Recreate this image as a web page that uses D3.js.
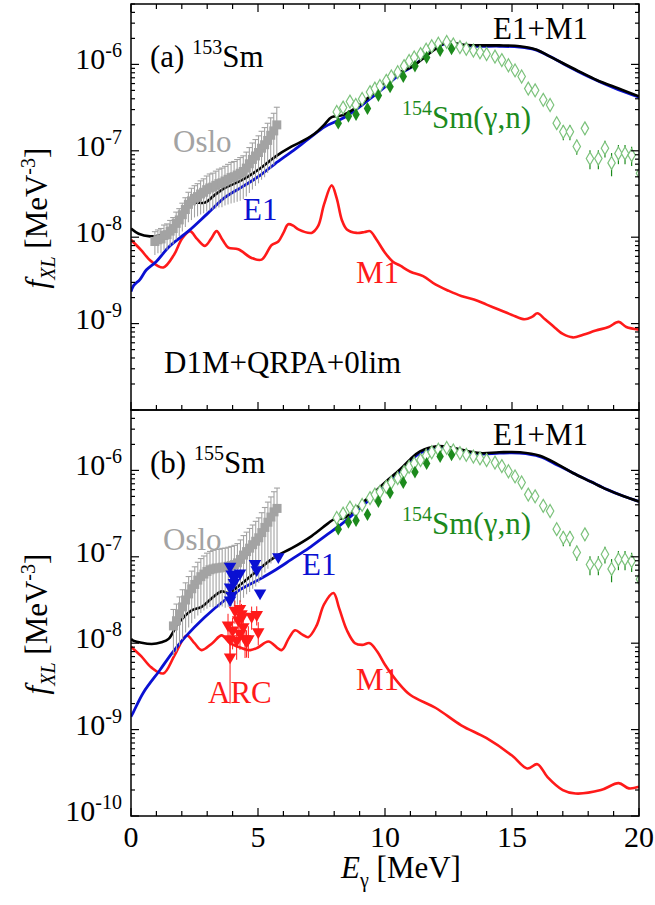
<!DOCTYPE html>
<html><head><meta charset="utf-8">
<script src="https://cdn.jsdelivr.net/npm/d3@7"></script>
<style>
body{margin:0;background:#fff}
text{font-family:"Liberation Serif","Times New Roman",serif;}
</style>
</head><body>
<svg id="chart" width="655" height="905" font-family="Liberation Serif"></svg>
<script>
// Gamma-ray strength functions f_XL (MeV^-3) versus E_gamma (MeV).
// Curves and data points are stored as [E (MeV), log10 f] pairs.

const xTickLabels = [0, 5, 10, 15, 20];
const yTickExps = [-6, -7, -8, -9, -10];

// ---- panel (a): 153Sm ----
const e1A = [[0,-8.63],[0.1,-8.56],[0.35,-8.49],[0.6,-8.38],[1.0,-8.28],[1.5,-8.11],[2.26,-7.93],[3.0,-7.73],[3.7,-7.54],[4.36,-7.42],[5.01,-7.30],[5.67,-7.15],[6.33,-7.01],[7.0,-6.86],[7.64,-6.72],[8.3,-6.63],[8.82,-6.53],[9.4,-6.40],[10.0,-6.26],[10.6,-6.11],[11.1,-6.02],[11.6,-5.90],[12.0,-5.81],[12.4,-5.76],[12.8,-5.77],[13.5,-5.79],[14.5,-5.79],[15.3,-5.80],[15.9,-5.83],[16.5,-5.91],[17.0,-5.99],[18.0,-6.14],[19.0,-6.27],[20.0,-6.38]];
const m1A = [[0,-8.03],[0.4,-8.15],[0.8,-8.28],[1.27,-8.35],[1.7,-8.20],[2.0,-8.02],[2.32,-7.93],[2.6,-8.02],[2.91,-8.10],[3.15,-8.02],[3.37,-7.93],[3.6,-8.03],[3.83,-8.12],[4.22,-8.14],[4.75,-8.24],[5.14,-8.26],[5.54,-8.09],[5.80,-8.05],[6.0,-7.95],[6.19,-7.85],[6.4,-7.87],[6.59,-7.91],[7.11,-7.95],[7.37,-7.87],[7.6,-7.62],[7.90,-7.40],[8.1,-7.55],[8.30,-7.80],[8.5,-7.91],[8.88,-7.95],[9.2,-7.94],[9.41,-7.93],[9.67,-8.03],[10.0,-8.18],[10.3,-8.28],[10.6,-8.33],[11.0,-8.40],[11.5,-8.45],[12.0,-8.55],[12.5,-8.62],[13.0,-8.68],[13.5,-8.72],[14.0,-8.78],[14.5,-8.84],[15.0,-8.90],[15.5,-8.95],[15.8,-8.92],[16.0,-8.88],[16.3,-8.95],[16.7,-9.05],[17.0,-9.12],[17.4,-9.16],[17.8,-9.13],[18.3,-9.08],[18.8,-9.04],[19.2,-8.98],[19.5,-9.04],[20.0,-9.07]];
const totA = [[0,-7.90],[0.3,-7.96],[0.75,-7.99],[1.1,-7.98],[1.47,-7.93],[1.8,-7.80],[2.19,-7.64],[2.5,-7.60],[2.91,-7.60],[3.3,-7.51],[3.7,-7.43],[4.36,-7.34],[5.01,-7.22],[5.67,-7.07],[6.33,-6.95],[6.8,-6.88],[7.24,-6.80],[7.6,-6.70],[7.9,-6.61],[8.3,-6.59],[8.82,-6.51],[9.4,-6.37],[9.8,-6.26],[10.4,-6.12],[11.1,-6.02],[11.5,-5.93],[11.9,-5.84],[12.3,-5.76],[12.56,-5.74],[13.0,-5.77],[13.74,-5.78],[14.5,-5.78],[15.3,-5.79],[15.97,-5.83],[16.5,-5.91],[17.03,-5.99],[17.7,-6.09],[18.33,-6.18],[19.2,-6.28],[20.0,-6.37]];
const osloA = [[0.94,-8.05],[1.06,-8.03],[1.18,-8.02],[1.30,-7.98],[1.42,-7.97],[1.54,-7.93],[1.66,-7.90],[1.78,-7.84],[1.90,-7.80],[2.02,-7.74],[2.14,-7.68],[2.26,-7.62],[2.38,-7.58],[2.50,-7.55],[2.62,-7.53],[2.74,-7.50],[2.86,-7.48],[2.98,-7.45],[3.10,-7.43],[3.22,-7.42],[3.34,-7.40],[3.46,-7.38],[3.58,-7.37],[3.70,-7.35],[3.82,-7.33],[3.94,-7.31],[4.06,-7.30],[4.18,-7.28],[4.30,-7.26],[4.42,-7.24],[4.54,-7.20],[4.66,-7.15],[4.78,-7.10],[4.90,-7.06],[5.02,-7.02],[5.14,-6.97],[5.26,-6.93],[5.38,-6.88],[5.50,-6.82],[5.62,-6.77],[5.74,-6.70]];
const osloErrA = [0.30,0.30,0.32,0.32,0.33,0.33,0.34,0.35,0.35,0.36,0.37,0.38,0.40,0.40,0.41,0.42,0.43,0.44,0.45,0.45,0.46,0.47,0.48,0.48,0.49,0.50,0.50,0.51,0.52,0.52,0.53,0.54,0.55,0.55,0.56,0.57,0.58,0.58,0.59,0.60,0.60];

// ---- panel (b): 155Sm ----
const e1B = [[0,-8.85],[0.09,-8.80],[0.49,-8.57],[1.14,-8.31],[1.6,-8.12],[2.13,-7.93],[2.9,-7.70],[3.70,-7.50],[4.3,-7.38],[5.0,-7.27],[5.7,-7.15],[6.32,-7.03],[7.0,-6.90],[7.64,-6.76],[8.3,-6.62],[8.82,-6.49],[9.41,-6.33],[10.0,-6.16],[10.59,-6.01],[11.0,-5.89],[11.38,-5.80],[12.04,-5.73],[12.69,-5.75],[13.74,-5.81],[14.5,-5.80],[15.31,-5.80],[16.1,-5.84],[16.8,-5.94],[17.4,-6.03],[18.1,-6.13],[18.73,-6.22],[19.4,-6.30],[20.0,-6.36]];
const m1B = [[0,-8.04],[0.4,-8.15],[0.8,-8.28],[1.27,-8.35],[1.7,-8.15],[2.19,-7.91],[2.5,-8.00],[2.78,-8.08],[3.2,-8.00],[3.57,-7.91],[3.9,-8.00],[4.3,-8.05],[4.7,-8.08],[5.0,-8.05],[5.41,-7.98],[5.93,-8.08],[6.2,-7.95],[6.46,-7.85],[6.75,-7.90],[6.98,-7.93],[7.3,-7.80],[7.6,-7.55],[7.97,-7.42],[8.2,-7.60],[8.5,-7.85],[8.82,-8.00],[9.1,-8.02],[9.4,-8.00],[9.7,-8.10],[10.0,-8.25],[10.5,-8.45],[11.0,-8.60],[12.0,-8.75],[13.0,-8.95],[14.0,-9.10],[15.0,-9.30],[15.6,-9.45],[16.0,-9.40],[16.4,-9.55],[17.0,-9.70],[17.5,-9.74],[18.5,-9.70],[19.2,-9.62],[19.6,-9.68],[20.0,-9.66]];
const totB = [[0,-7.95],[0.09,-7.97],[0.81,-8.01],[1.2,-7.99],[1.48,-7.95],[1.86,-7.77],[2.39,-7.62],[2.78,-7.58],[3.18,-7.48],[3.57,-7.40],[3.83,-7.42],[4.36,-7.31],[5.01,-7.15],[5.67,-7.00],[6.33,-6.90],[7.11,-6.76],[7.77,-6.61],[7.97,-6.57],[8.4,-6.55],[8.82,-6.45],[9.41,-6.30],[10.0,-6.14],[10.59,-5.99],[11.0,-5.87],[11.38,-5.78],[12.04,-5.72],[12.69,-5.74],[13.74,-5.80],[14.5,-5.79],[15.31,-5.79],[16.1,-5.83],[16.8,-5.93],[17.4,-6.03],[18.1,-6.13],[18.73,-6.22],[19.4,-6.30],[20.0,-6.36]];
const osloB = [[1.67,-7.80],[1.79,-7.74],[1.91,-7.66],[2.03,-7.58],[2.15,-7.50],[2.27,-7.43],[2.39,-7.37],[2.51,-7.32],[2.63,-7.27],[2.75,-7.23],[2.87,-7.20],[2.99,-7.17],[3.11,-7.15],[3.23,-7.14],[3.35,-7.13],[3.47,-7.13],[3.59,-7.12],[3.71,-7.12],[3.83,-7.11],[3.95,-7.10],[4.07,-7.09],[4.19,-7.07],[4.31,-7.03],[4.43,-6.98],[4.55,-6.94],[4.67,-6.90],[4.79,-6.86],[4.91,-6.82],[5.03,-6.78],[5.15,-6.72],[5.27,-6.66],[5.39,-6.60],[5.51,-6.54],[5.63,-6.48],[5.75,-6.44]];
const osloErrB = [0.55,0.56,0.57,0.58,0.58,0.59,0.60,0.60,0.61,0.62,0.62,0.63,0.63,0.64,0.64,0.65,0.65,0.66,0.66,0.66,0.67,0.67,0.68,0.68,0.68,0.69,0.69,0.70,0.70,0.70,0.70,0.71,0.71,0.71,0.72];
const arcE1B = [[3.90,-7.11],[3.96,-7.20],[4.10,-7.23],[4.29,-7.19],[3.90,-7.35],[3.96,-7.45],[3.90,-7.50],[4.05,-7.30],[4.88,-7.08],[4.95,-7.15],[5.08,-7.42],[5.80,-7.00]];
const arcM1B = [[4.09,-7.62],[4.29,-7.60],[4.35,-7.66],[3.82,-7.79],[4.22,-7.73],[4.42,-7.81],[4.75,-7.69],[4.95,-7.67],[4.00,-7.85],[4.29,-7.89],[4.49,-7.95],[4.16,-7.97],[3.90,-7.95],[5.01,-7.87],[4.55,-7.98],[3.90,-8.16],[4.36,-7.70],[4.62,-7.95]];
const arcM1ErrB = [0.30,0.25,0.30,0.35,0.30,0.35,0.30,0.25,0.40,0.35,0.40,0.40,0.45,0.30,0.35,0.71,0.30,0.40];

// ---- 154Sm(gamma,n) photoabsorption data (shown in both panels) ----
const gnOpen = [[8.10,-6.55],[8.35,-6.50],[8.62,-6.43],[8.85,-6.47],[9.10,-6.40],[9.41,-6.32],[9.60,-6.28],[9.80,-6.25],[10.05,-6.19],[10.25,-6.14],[10.50,-6.09],[10.75,-6.02],[10.95,-5.96],[11.15,-5.92],[11.40,-5.88],[11.62,-5.83],[11.84,-5.79],[12.10,-5.76],[12.43,-5.74],[12.69,-5.77],[12.95,-5.80],[13.20,-5.82],[13.48,-5.84],[13.74,-5.86],[14.00,-5.88],[14.33,-5.91],[14.60,-5.95],[14.86,-6.01],[15.12,-6.07],[15.38,-6.14],[15.64,-6.28],[15.91,-6.30],[16.23,-6.41],[16.50,-6.47],[16.76,-6.68],[17.02,-6.78],[17.28,-6.78],[17.55,-6.95],[17.87,-6.74],[18.07,-7.09],[18.40,-7.09],[18.66,-6.97],[18.92,-7.14],[19.19,-7.03],[19.45,-7.03],[19.71,-7.05],[20.04,-7.26]];
const gnOpenErr = [0,0,0,0,0,0,0,0,0,0,0,0,0,0,0,0,0,0,0,0,0,0,0,0,0,0,0,0,0,0,0,0,0,0,0.15,0.2,0.2,0.2,0.15,0.25,0.25,0.22,0.3,0.25,0.25,0.25,0.3];
const gnFilled = [[8.16,-6.68],[8.56,-6.60],[8.86,-6.58],[9.31,-6.51],[9.74,-6.36],[10.20,-6.26],[10.72,-6.14],[11.18,-6.02],[11.64,-5.92],[12.17,-5.84],[12.62,-5.82]];

// ---- layout ----
const svg = d3.select("#chart");
svg.append("rect").attr("width",655).attr("height",905).attr("fill","#fff");
const left = 131, right = 639;
const x = d3.scaleLinear().domain([0,20]).range([left,right]);
const RED = "#ff1a1a", BLUE = "#0a10d2", GRAY = "#a3a3a3", GREEN = "#1c8a1c", LGREEN = "#7cc27c";
const LABEL = 31, TICK = 30, SUP = 20;

function drawPanel(p) {
  const y = d3.scaleLog().domain([1e-10, 5e-6]).range([p.bottom, p.top]);
  const v = L => Math.pow(10, L);
  const g = svg.append("g");
  const clipId = "clip" + p.id;
  svg.append("clipPath").attr("id", clipId).append("rect")
    .attr("x", left).attr("y", p.top).attr("width", right-left).attr("height", p.bottom-p.top);
  const plot = g.append("g").attr("clip-path", `url(#${clipId})`);
  const line = d3.line().x(d => x(d[0])).y(d => y(v(d[1]))).curve(d3.curveCatmullRom.alpha(0.5));

  plot.append("path").datum(p.m1).attr("d", line).attr("fill","none").attr("stroke",RED).attr("stroke-width",2.6);
  plot.append("path").datum(p.e1).attr("d", line).attr("fill","none").attr("stroke",BLUE).attr("stroke-width",2.8);
  plot.append("path").datum(p.tot).attr("d", line).attr("fill","none").attr("stroke","#000").attr("stroke-width",2.6);

  // Oslo data: squares with error bars
  const og = plot.append("g").attr("stroke", GRAY).attr("fill", GRAY);
  p.oslo.forEach((d, i) => {
    const val = v(d[1]), e = p.osloErr[i];
    const y0 = y(val*(1+e)), y1 = y(val*(1-e)), cx = x(d[0]);
    og.append("line").attr("x1",cx).attr("x2",cx).attr("y1",y0).attr("y2",y1).attr("stroke-width",1.1);
    og.append("line").attr("x1",cx-3).attr("x2",cx+3).attr("y1",y0).attr("y2",y0).attr("stroke-width",1.1);
  });
  p.oslo.forEach(d => {
    og.append("rect").attr("x", x(d[0])-4.5).attr("y", y(v(d[1]))-4.5).attr("width",9).attr("height",9).attr("stroke","none");
  });

  // (gamma,n) data
  const diamond = d3.symbol().type(d3.symbolDiamond).size(48);
  const gg = plot.append("g");
  gnOpen.forEach((d, i) => {
    const e = gnOpenErr[i];
    if (e > 0) {
      const val = v(d[1]);
      gg.append("line").attr("x1",x(d[0])).attr("x2",x(d[0]))
        .attr("y1",y(val*(1+e))).attr("y2",y(val*(1-e))).attr("stroke",GREEN).attr("stroke-width",1.2);
    }
  });
  gnOpen.forEach(d => {
    gg.append("path").attr("d", diamond()).attr("transform",`translate(${x(d[0])},${y(v(d[1]))})`)
      .attr("fill","#fff").attr("stroke",LGREEN).attr("stroke-width",1.2);
  });
  gnFilled.forEach(d => {
    gg.append("path").attr("d", diamond()).attr("transform",`translate(${x(d[0])},${y(v(d[1]))})`)
      .attr("fill",GREEN).attr("stroke","none");
  });

  // ARC data (panel b)
  if (p.arcE1) {
    const tri = d3.symbol().type(d3.symbolTriangle).size(68);
    const ag = plot.append("g");
    p.arcM1.forEach((d, i) => {
      const val = v(d[1]), e = p.arcM1Err[i];
      ag.append("line").attr("x1",x(d[0])).attr("x2",x(d[0]))
        .attr("y1",y(val*(1+e))).attr("y2",y(val*(1-e))).attr("stroke",RED).attr("stroke-width",1);
    });
    p.arcM1.forEach(d => {
      ag.append("path").attr("d", tri()).attr("transform",`translate(${x(d[0])},${y(v(d[1]))}) rotate(180)`).attr("fill",RED);
    });
    p.arcE1.forEach(d => {
      ag.append("path").attr("d", tri()).attr("transform",`translate(${x(d[0])},${y(v(d[1]))}) rotate(180)`).attr("fill",BLUE);
    });
  }

  // axes: inward ticks on all sides
  const majorY = yTickExps.map(k => Math.pow(10,k));
  const minorY = [];
  for (let k = -10; k <= -6; k++) for (let m = 2; m <= 9; m++) { const t = m*Math.pow(10,k); if (t <= 5e-6) minorY.push(t); }
  const ax = g.append("g").attr("stroke","#000");
  const tick = (x1,y1,x2,y2) => ax.append("line").attr("x1",x1).attr("y1",y1).attr("x2",x2).attr("y2",y2).attr("stroke-width",1.2);
  majorY.forEach(t => { tick(left,y(t),left+8,y(t)); tick(right,y(t),right-8,y(t)); });
  minorY.forEach(t => { tick(left,y(t),left+4,y(t)); tick(right,y(t),right-4,y(t)); });
  d3.range(0,21,1).forEach(e => {
    const len = e % 5 === 0 ? 8 : 5;
    tick(x(e), p.bottom, x(e), p.bottom-len);
    if (p.topTicks) tick(x(e), p.top, x(e), p.top+len);
  });
  ax.append("rect").attr("x",left).attr("y",p.top).attr("width",right-left).attr("height",p.bottom-p.top)
    .attr("fill","none").attr("stroke-width",1.5);

  // y tick labels
  yTickExps.forEach(k => {
    if (k === -10 && !p.showBottomLabel) return;
    const t = Math.pow(10,k);
    const tx = g.append("text").attr("x",122).attr("y",y(t)+5).attr("text-anchor","end").attr("font-size",TICK);
    tx.append("tspan").text("10");
    tx.append("tspan").attr("font-size",SUP).attr("dy",-12).text(String(k));
  });

  // y axis title
  const yt = g.append("text").attr("transform",`translate(47,${p.titleY}) rotate(-90)`).attr("text-anchor","middle").attr("font-size",LABEL);
  yt.append("tspan").attr("font-style","italic").text("f");
  yt.append("tspan").attr("font-style","italic").attr("font-size",SUP).attr("dy",8).text("XL");
  yt.append("tspan").attr("dy",-8).text(" [MeV");
  yt.append("tspan").attr("font-size",SUP).attr("dy",-12).text("-3");
  yt.append("tspan").attr("dy",12).text("]");

  // annotations
  const lab = (xx, yy, color, parts) => {
    const t = g.append("text").attr("x",xx).attr("y",yy).attr("font-size",LABEL).attr("fill",color);
    parts.forEach(pt => {
      const s = t.append("tspan").text(pt.t);
      if (pt.sup) s.attr("font-size",SUP).attr("dy",-13);
      if (pt.back) s.attr("dy",13);
    });
    return t;
  };
  const off = p.top - 4;
  lab(150, 67+off, "#000", [{t:`(${p.id}) `},{t:p.nucleus,sup:true},{t:"Sm",back:true}]);
  lab(493, 39+off, "#000", [{t:"E1+M1"}]);
  lab(402, 128+off, GREEN, [{t:"154",sup:true},{t:"Sm(γ,n)",back:true}]);
  lab(p.osloX, p.osloY, GRAY, [{t:"Oslo"}]);
  lab(p.e1X, p.e1Y, BLUE, [{t:"E1"}]);
  lab(356, p.m1Y, RED, [{t:"M1"}]);
  if (p.id === "a") lab(164, 373, "#000", [{t:"D1M+QRPA+0lim"}]);
  if (p.id === "b") lab(208, 703, RED, [{t:"ARC"}]);
}

drawPanel({id:"a", nucleus:"153", top:4, bottom:410, e1:e1A, m1:m1A, tot:totA, oslo:osloA, osloErr:osloErrA,
  topTicks:true, showBottomLabel:false, titleY:218, osloX:173, osloY:152, e1X:243, e1Y:220, m1Y:283});
drawPanel({id:"b", nucleus:"155", top:410, bottom:816, e1:e1B, m1:m1B, tot:totB, oslo:osloB, osloErr:osloErrB,
  arcE1:arcE1B, arcM1:arcM1B, arcM1Err:arcM1ErrB,
  topTicks:false, showBottomLabel:true, titleY:624, osloX:163, osloY:550, e1X:302, e1Y:575, m1Y:690});

// x tick labels and title
xTickLabels.forEach(t => {
  svg.append("text").attr("x", x(t)).attr("y", 847).attr("text-anchor","middle").attr("font-size",TICK).text(t);
});
const xt = svg.append("text").attr("x", 401).attr("y", 878).attr("text-anchor","middle").attr("font-size",LABEL);
xt.append("tspan").attr("font-style","italic").text("E");
xt.append("tspan").attr("font-size",SUP).attr("dy",9).text("γ");
xt.append("tspan").attr("dy",-9).text(" [MeV]");
</script>
</body></html>
